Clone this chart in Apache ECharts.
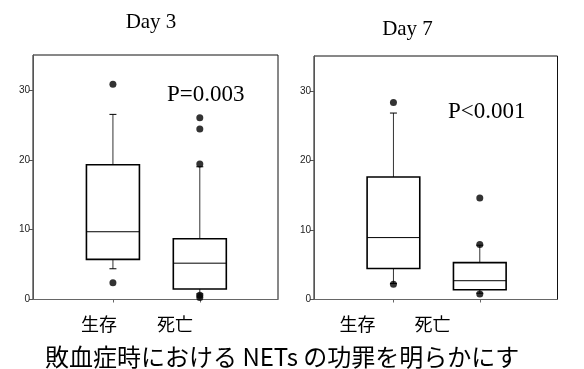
<!DOCTYPE html>
<html>
<head>
<meta charset="utf-8">
<script src="https://cdn.jsdelivr.net/npm/echarts@6/dist/echarts.min.js"></script>
<style>html,body{margin:0;padding:0;background:#fff;}#c{width:584px;height:369px;}</style>
</head>
<body>
<div id="c"></div>
<script>
const categories = ['生存', '死亡'];
const yTicks = [0, 10, 20, 30];
// [lowerWhisker, Q1, median, Q3, upperWhisker]
const day3Box = [[4.4, 5.75, 9.7, 19.3, 26.5], [0.8, 1.5, 5.2, 8.7, 19.0]];
const day3Outliers = [[1, 30.8], [1, 2.4], [2, 26.0], [2, 24.4], [2, 19.4], [2, 0.6], [2, 0.3]];
const day7Box = [[2.3, 4.45, 8.9, 17.6, 26.8], [0.9, 1.4, 2.7, 5.3, 7.8]];
const day7Outliers = [[1, 28.3], [1, 2.2], [2, 14.6], [2, 7.9], [2, 0.8]];
const titles = ['Day 3', 'Day 7'];
const pValues = ['P=0.003', 'P<0.001'];
const caption = '敗血症時における NETs の功罪を明らかにす';

const chart = echarts.init(document.getElementById('c'), null, {renderer: 'canvas'});

function boxRender(params, api) {
  const x = api.value(0);
  const lo = api.coord([x, api.value(1)]);
  const q1 = api.coord([x, api.value(2)]);
  const md = api.coord([x, api.value(3)]);
  const q3 = api.coord([x, api.value(4)]);
  const hi = api.coord([x, api.value(5)]);
  const half = api.size([0.61, 0])[0] / 2;
  const cap = 3.5;
  const cx = lo[0];
  const ls = {stroke: '#000', lineWidth: 1};
  return {
    type: 'group',
    children: [
      {type: 'line', shape: {x1: cx, y1: q3[1], x2: cx, y2: hi[1]}, style: {stroke: '#333', lineWidth: 1}},
      {type: 'line', shape: {x1: cx - cap, y1: hi[1], x2: cx + cap, y2: hi[1]}, style: ls},
      {type: 'line', shape: {x1: cx, y1: q1[1], x2: cx, y2: lo[1]}, style: {stroke: '#333', lineWidth: 1}},
      {type: 'line', shape: {x1: cx - cap, y1: lo[1], x2: cx + cap, y2: lo[1]}, style: ls},
      {type: 'rect', shape: {x: cx - half, y: q3[1], width: half * 2, height: q1[1] - q3[1]}, style: {fill: '#fff', stroke: '#000', lineWidth: 1.6}},
      {type: 'line', shape: {x1: cx - half, y1: md[1], x2: cx + half, y2: md[1]}, style: {stroke: '#000', lineWidth: 1}}
    ]
  };
}

function boxData(arr) {
  return arr.map((b, i) => [i + 1].concat(b));
}

const grids = [
  {left: 33, top: 55, width: 245, height: 244.5, show: true, borderColor: '#111', borderWidth: 1},
  {left: 314, top: 56, width: 243.5, height: 243.5, show: true, borderColor: '#111', borderWidth: 1}
];

function xAx(i) {
  return {
    gridIndex: i, type: 'value', min: 0.08, max: 2.9,
    axisLine: {show: true, lineStyle: {color: '#666', width: 1}},
    axisTick: {show: true, customValues: [1, 2], length: 3, lineStyle: {color: '#666'}},
    axisLabel: {show: false}, splitLine: {show: false}
  };
}
function yAx(i) {
  return {
    gridIndex: i, type: 'value', min: 0, max: 35, interval: 10,
    axisLine: {show: true, lineStyle: {color: '#555', width: 1}},
    axisTick: {show: true, length: 4, customValues: yTicks, lineStyle: {color: '#555'}},
    axisLabel: {show: true, customValues: yTicks, fontSize: 10, color: '#222', fontFamily: 'Liberation Sans, Arial', margin: 3},
    splitLine: {show: false}
  };
}

const labelPos = [[99, 175], [357.5, 432.5]];
const graphics = [];
labelPos.forEach(pair => {
  pair.forEach((x, j) => {
    graphics.push({type: 'text', x: x, y: 324, style: {text: categories[j], font: '18px "Noto Sans CJK JP"', fill: '#000', align: 'center', verticalAlign: 'middle'}});
  });
});
graphics.push({type: 'text', x: 151, y: 22, style: {text: titles[0], font: '21px "Liberation Serif"', fill: '#000', align: 'center', verticalAlign: 'middle'}});
graphics.push({type: 'text', x: 407.5, y: 29, style: {text: titles[1], font: '21px "Liberation Serif"', fill: '#000', align: 'center', verticalAlign: 'middle'}});
graphics.push({type: 'text', x: 205.7, y: 95, style: {text: pValues[0], font: '23px "Liberation Serif"', fill: '#000', align: 'center', verticalAlign: 'middle'}});
graphics.push({type: 'text', x: 486.7, y: 111.5, style: {text: pValues[1], font: '23px "Liberation Serif"', fill: '#000', align: 'center', verticalAlign: 'middle'}});
graphics.push({type: 'text', x: 45, y: 357, style: {text: caption, font: '24px "Noto Sans CJK JP"', fill: '#000', align: 'left', verticalAlign: 'middle'}});

chart.setOption({
  animation: false,
  backgroundColor: '#fff',
  grid: grids,
  xAxis: [xAx(0), xAx(1)],
  yAxis: [yAx(0), yAx(1)],
  series: [
    {type: 'custom', xAxisIndex: 0, yAxisIndex: 0, renderItem: boxRender, data: boxData(day3Box), z: 2},
    {type: 'custom', xAxisIndex: 1, yAxisIndex: 1, renderItem: boxRender, data: boxData(day7Box), z: 2},
    {type: 'scatter', xAxisIndex: 0, yAxisIndex: 0, data: day3Outliers, symbolSize: 7, itemStyle: {color: '#000'}, z: 3},
    {type: 'scatter', xAxisIndex: 1, yAxisIndex: 1, data: day7Outliers, symbolSize: 7, itemStyle: {color: '#000'}, z: 3}
  ],
  graphic: graphics
});
</script>
</body>
</html>
